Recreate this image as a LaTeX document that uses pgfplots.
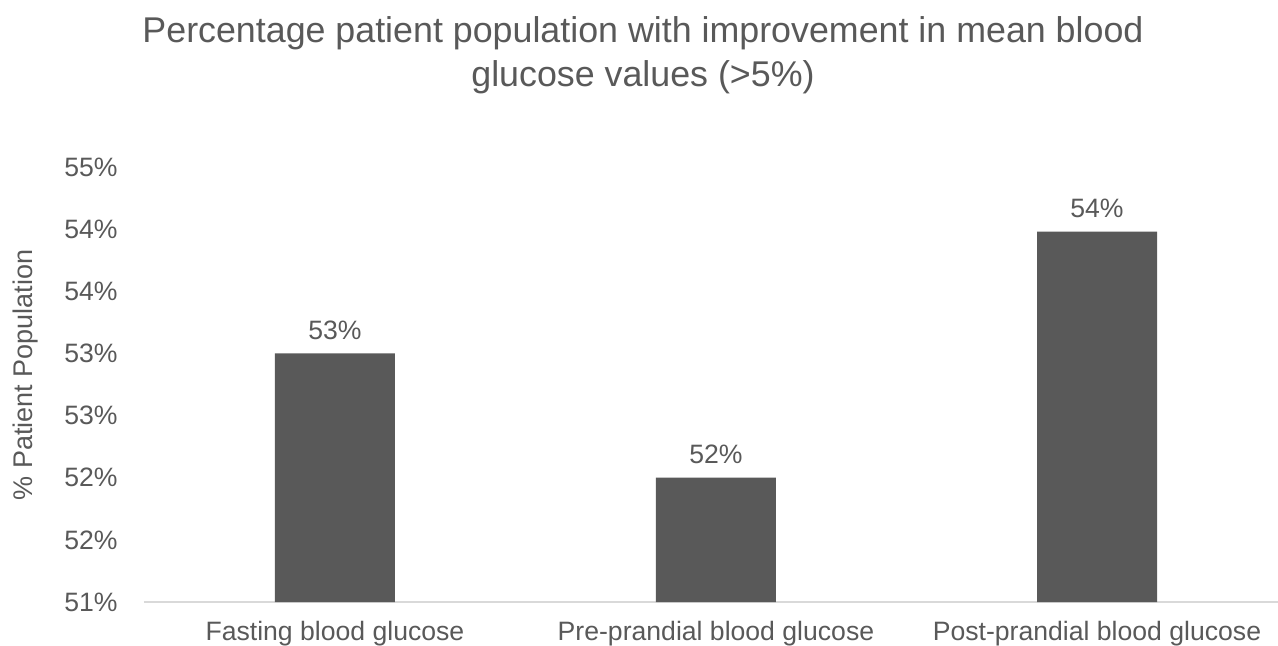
\documentclass[border=0pt]{standalone}
\usepackage{pgfplots}
\pgfplotsset{compat=1.18}
\usepackage{fontspec}
\setmainfont{Liberation Sans}
\definecolor{txt}{HTML}{595959}
\definecolor{barc}{HTML}{595959}
\definecolor{base}{HTML}{D9D9D9}
\begin{document}
\begin{tikzpicture}
\path[use as bounding box] (-72pt,-21.5pt) rectangle (567pt,301pt);
\begin{axis}[
  at={(0pt,0pt)}, anchor=south west,
  scale only axis,
  width=567pt, height=217.5pt,
  xmin=-0.501, xmax=2.475,
  ymin=51, ymax=54.5,
  ybar, bar width=60pt, bar shift=0pt,
  axis lines*=left,
  y axis line style={draw=none},
  x axis line style={draw=base, line width=0.8pt},
  major tick length=0pt,
  xtick={0,1,2},
  xticklabels={Fasting blood glucose, Pre-prandial blood glucose, Post-prandial blood glucose},
  ytick={51,51.5,52,52.5,53,53.5,54,54.5},
  yticklabels={51\%,52\%,52\%,53\%,53\%,54\%,54\%,55\%},
  ticklabel style={font=\fontsize{13.3}{16}\selectfont, text=txt},
  yticklabel style={anchor=east, inner sep=0pt, xshift=-13pt},
  xticklabel style={anchor=base, inner sep=0pt, yshift=-19pt},
  ylabel={\% Patient Population},
  ylabel style={at={(axis description cs:-0.1049,0.522)}, anchor=center, font=\fontsize{13.5}{16}\selectfont, text=txt},
  /pgf/number format/assume math mode=true,
  nodes near coords={\pgfmathprintnumber[fixed,precision=0]{\pgfplotspointmeta}\%},
  nodes near coords style={anchor=base, inner sep=0pt, yshift=7pt, font=\fontsize{13.3}{16}\selectfont, text=txt},
  clip=false,
]
\addplot[fill=barc, draw=none] coordinates {(0,53.0) (1,52.0) (2,53.98)};
\end{axis}
\node[anchor=base, inner sep=0pt, text=txt, font=\fontsize{17.9}{21}\selectfont] at (249.5pt,280pt) {Percentage patient population with improvement in mean blood};
\node[anchor=base, inner sep=0pt, text=txt, font=\fontsize{17.9}{21}\selectfont] at (249.5pt,258pt) {glucose values (>5\%)};
\end{tikzpicture}
\end{document}
